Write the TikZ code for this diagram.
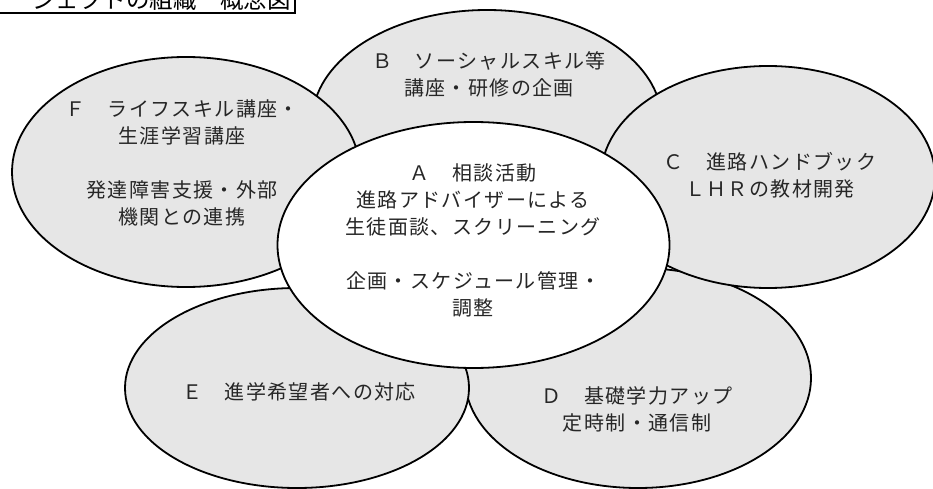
\documentclass[tikz,border=0pt]{standalone}
\usepackage{fontspec}
\setmainfont{Noto Sans CJK JP}
\newfontfamily\jp[LetterSpace=7]{Noto Sans CJK JP}
\newfontfamily\jptitle{Noto Sans CJK JP}
\usetikzlibrary{shapes.geometric}
\definecolor{petal}{HTML}{E6E6E6}
\definecolor{ink}{HTML}{262626}
\tikzset{
  petalnode/.style={ellipse, draw=black, line width=1.8pt, fill=petal, inner sep=0pt, outer sep=0pt},
  centrenode/.style={petalnode, fill=white},
  label/.style={font=\jp\fontsize{20pt}{27pt}\selectfont, text=ink, align=center, inner sep=0pt},
}
\begin{document}
\begin{tikzpicture}[x=1pt,y=-1pt]
\useasboundingbox (0,0) rectangle (933,489);
\fill[white] (0,0) rectangle (933,489);
% petals
\node[petalnode, minimum width=350pt, minimum height=224pt] (B) at (487,122) {};
\node[petalnode, minimum width=346pt, minimum height=220pt] (D) at (638,378) {};
\node[petalnode, minimum width=344pt, minimum height=200pt] (E) at (297,388) {};
\node[petalnode, minimum width=334pt, minimum height=222pt] (C) at (768,177) {};
\node[petalnode, minimum width=348pt, minimum height=230pt] (F) at (186,172) {};
\node[centrenode, minimum width=392pt, minimum height=246pt] (A) at (473.5,245) {};
% labels
\node[label] (Bt) at (489,74) {Ｂ　ソーシャルスキル等\\講座・研修の企画};
\node[label] (Ct) at (770,175) {Ｃ　進路ハンドブック\\ＬＨＲの教材開発};
\node[label] (At) at (473,240) {Ａ　相談活動\\進路アドバイザーによる\\生徒面談、スクリーニング\\[27pt]企画・スケジュール管理・\\調整};
\node[label] (Dt) at (637,409) {Ｄ　基礎学力アップ\\定時制・通信制};
\node[label] (Et) at (299,392) {Ｅ　進学希望者への対応};
\node[label] (Ft) at (182,163) {Ｆ　ライフスキル講座・\\生涯学習講座\\[27pt]発達障害支援・外部\\機関との連携};
% title
\node[anchor=base east, inner sep=0pt, font=\jptitle\fontsize{23.5pt}{26pt}\selectfont, text=black] (T) at (291,9) {ジェクトの組織　概念図};
\coordinate (tl) at (-5,13);
\coordinate (tr) at (295,13);
\coordinate (tt) at (295,-5);
\draw[line width=1.8pt] (tl) -- (tr) -- (tt);
\end{tikzpicture}
\end{document}
